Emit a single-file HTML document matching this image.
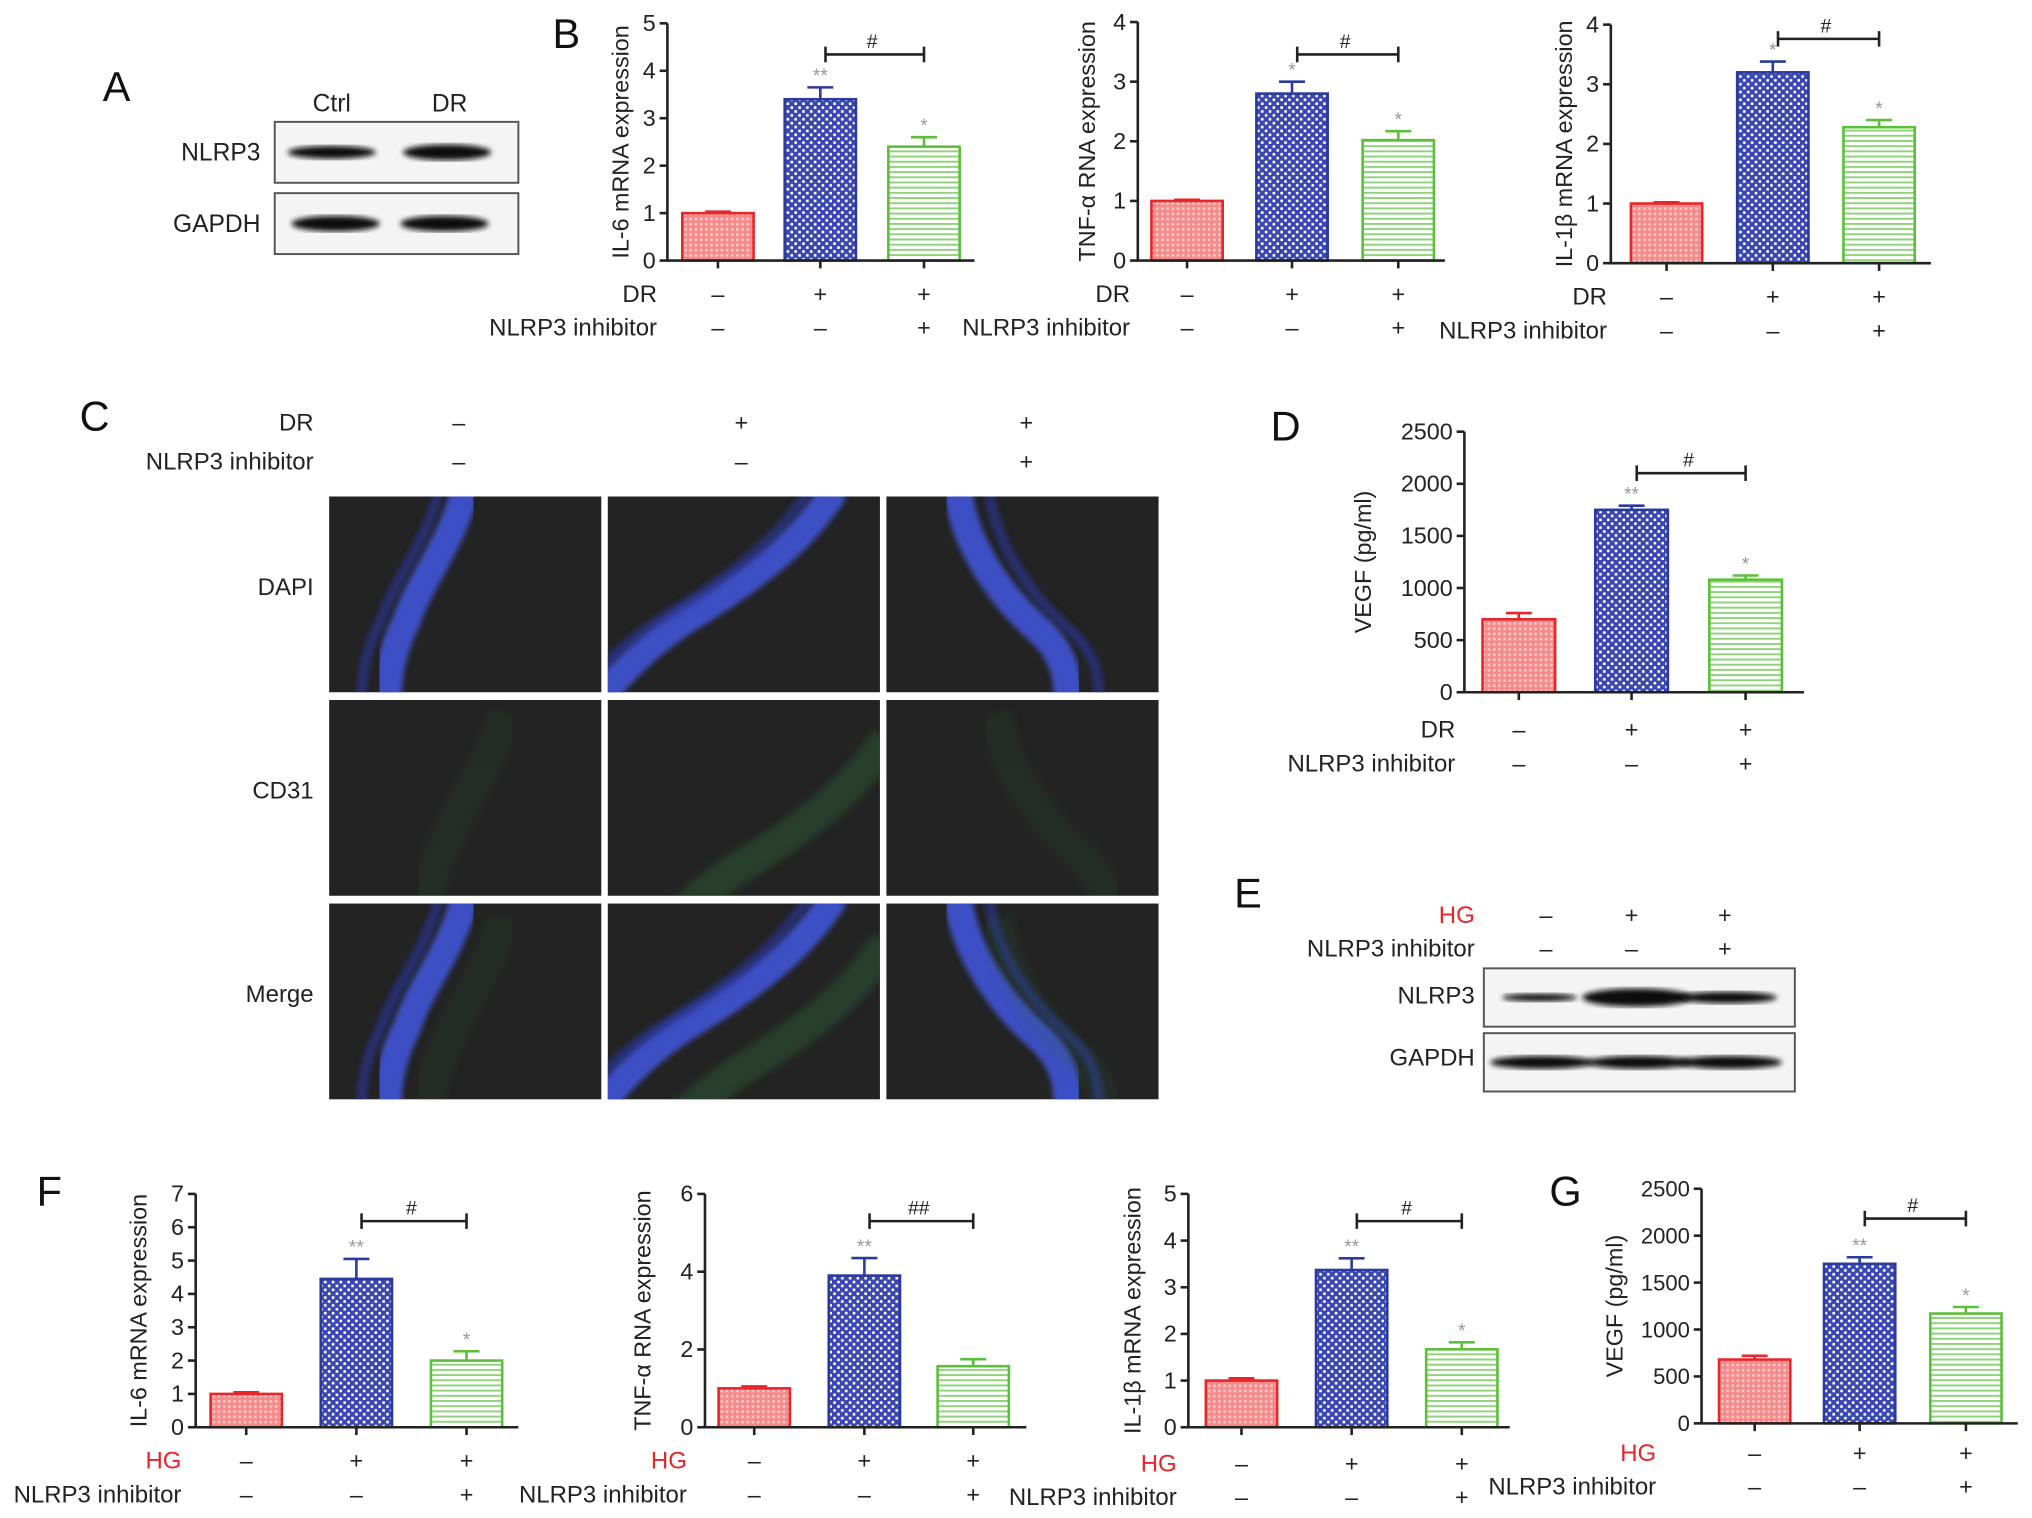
<!DOCTYPE html>
<html><head><meta charset="utf-8"><style>
html,body{margin:0;padding:0;background:#fff}
svg{display:block;font-family:"Liberation Sans",sans-serif}
</style></head><body>
<svg id="fig" width="2032" height="1518" viewBox="0 0 1568 1171" preserveAspectRatio="none" xmlns="http://www.w3.org/2000/svg">
<defs>
<pattern id="pRed" width="4" height="4" patternUnits="userSpaceOnUse"><rect width="4" height="4" fill="#f58a8a"/><rect width="2" height="2" fill="#fbcaca"/></pattern>
<pattern id="pBlue" width="6" height="6" patternUnits="userSpaceOnUse"><rect width="6" height="6" fill="#3a47b0"/><rect x="1" y="1" width="2" height="2" fill="#fff"/><rect x="4" y="4" width="2" height="2" fill="#fff"/></pattern>
<pattern id="pGreen" width="4" height="4" patternUnits="userSpaceOnUse"><rect width="4" height="4" fill="#fff"/><rect width="4" height="1.5" fill="#8fd27a"/></pattern>
<filter id="blur1"><feGaussianBlur stdDeviation="2"/></filter>
<filter id="blur3"><feGaussianBlur stdDeviation="3"/></filter>
</defs>
<g id="root"></g>
</svg>
<script>
const NS='http://www.w3.org/2000/svg';
const root=document.getElementById('root');
function mk(tag,attrs,parent,text){const e=document.createElementNS(NS,tag);for(const k in attrs)e.setAttribute(k,attrs[k]);if(text!==undefined)e.textContent=text;(parent||root).appendChild(e);return e;}
function txt(x,y,s,size,parent,anchor,fill,rot){const a={x:x,y:y,'font-size':size,'text-anchor':anchor||'middle',fill:fill||'#222'};if(rot)a.transform='rotate(-90 '+x+' '+y+')';return mk('text',a,parent,s);}

// ---- chart data ----
const conditions=['Control','Disease','Disease + NLRP3 inhibitor'];
const il6DR=[1.0,3.4,2.4], il6DRerr=[0.03,0.25,0.2];
const tnfDR=[1.0,2.8,2.02], tnfDRerr=[0.02,0.2,0.15];
const il1bDR=[1.0,3.2,2.28], il1bDRerr=[0.02,0.18,0.12];
const vegfDR=[700,1750,1080], vegfDRerr=[60,40,40];
const il6HG=[1.0,4.45,2.0], il6HGerr=[0.05,0.6,0.28];
const tnfHG=[1.0,3.9,1.57], tnfHGerr=[0.05,0.45,0.18];
const il1bHG=[1.0,3.37,1.67], il1bHGerr=[0.05,0.25,0.15];
const vegfHG=[680,1700,1170], vegfHGerr=[40,70,70];
const ticks5=[0,1,2,3,4,5], ticks4=[0,1,2,3,4], ticks7=[0,1,2,3,4,5,6,7], ticks6=[0,2,4,6], ticksV=[0,500,1000,1500,2000,2500];
const starsDR=['','**','*'], starsDR2=['','*','*'], starsHG2=['','**',''];
const rowA=['–','+','+'], rowB=['–','–','+'];

function chart(o){
  const g=mk('g',{});  
  const y=v=>o.y0-(v/o.max)*(o.y0-o.yTop);
  const fills=['url(#pRed)','url(#pBlue)','url(#pGreen)'], strokes=['#e8262a','#2b3a9e','#5cbf3a'];
  o.vals.forEach((v,i)=>{
    const cx=o.cx[i], w=o.bw, top=y(v), et=y(v+o.err[i]);
    const b=mk('rect',{x:cx-w/2,y:top,width:w,height:o.y0-top,fill:fills[i],stroke:strokes[i],'stroke-width':2},g);
     
    const e=mk('path',{d:`M${cx} ${top}V${et}M${cx-10} ${et}H${cx+10}`,stroke:strokes[i],'stroke-width':2,fill:'none'},g);
     
    if(o.stars[i]) txt(cx,et-4,o.stars[i],15,g,'middle','#999');
  });
  const ax=mk('path',{d:`M${o.x0} ${o.yTop}V${o.y0}H${o.xEnd}`,stroke:'#222','stroke-width':2,fill:'none'},g);
   
  o.ticks.forEach(t=>{const ty=y(t);mk('line',{x1:o.x0-6,y1:ty,x2:o.x0,y2:ty,stroke:'#222','stroke-width':2},g);
    const l=txt(o.x0-9,ty+6,String(t),o.tickSize||18,g,'end');  });
  o.cx.forEach(cx=>mk('line',{x1:cx,y1:o.y0,x2:cx,y2:o.y0+6,stroke:'#222','stroke-width':2},g));
  const yt=txt(o.titleX,(o.yTop+o.y0)/2,o.title,18,g,'middle','#222',true);  
  const by=o.bracketY;
  mk('path',{d:`M${o.cx[1]+4} ${by}H${o.cx[2]}M${o.cx[1]+4} ${by-6}V${by+6}M${o.cx[2]} ${by-6}V${by+6}`,stroke:'#222','stroke-width':2,fill:'none'},g);
  txt((o.cx[1]+o.cx[2])/2,by-5,o.hash,15,g,'middle','#222');
  const l1=txt(o.labX,o.r1,o.lab1,18.5,g,'end',o.lab1col||'#222');  
  txt(o.labX,o.r2,'NLRP3 inhibitor',18.5,g,'end');
  o.cx.forEach((cx,i)=>{txt(cx,o.r1,rowA[i],18,g);txt(cx,o.r2,rowB[i],18,g);});
}

chart({name:'chart-il6-dr',x0:515,xEnd:752,y0:201,yTop:18,max:5,ticks:ticks5,cx:[554,633,713],bw:55,vals:il6DR,err:il6DRerr,stars:starsDR,title:'IL-6 mRNA expression',titleX:485,bracketY:42,hash:'#',labX:507,r1:233,r2:259,lab1:'DR'});
chart({name:'chart-tnf-dr',x0:878,xEnd:1115,y0:201,yTop:17,max:4,ticks:ticks4,cx:[916,997,1079],bw:55,vals:tnfDR,err:tnfDRerr,stars:starsDR2,title:'TNF-α RNA expression',titleX:845,bracketY:42,hash:'#',labX:872,r1:233,r2:259,lab1:'DR'});
chart({name:'chart-il1b-dr',x0:1243,xEnd:1490,y0:203,yTop:19,max:4,ticks:ticks4,cx:[1286,1368,1450],bw:55,vals:il1bDR,err:il1bDRerr,stars:starsDR2,title:'IL-1β mRNA expression',titleX:1213,bracketY:30,hash:'#',labX:1240,r1:235,r2:261,lab1:'DR'});
chart({name:'chart-vegf-dr',x0:1130,xEnd:1392,y0:534,yTop:333,max:2500,ticks:ticksV,cx:[1172,1259,1347],bw:56,vals:vegfDR,err:vegfDRerr,stars:['','**','*'],title:'VEGF (pg/ml)',titleX:1058,bracketY:365,hash:'#',labX:1123,r1:569,r2:595,lab1:'DR'});
chart({name:'chart-il6-hg',x0:151,xEnd:400,y0:1101,yTop:921,max:7,ticks:ticks7,cx:[190,275,360],bw:55,vals:il6HG,err:il6HGerr,stars:['','**','*'],title:'IL-6 mRNA expression',titleX:113,bracketY:942,hash:'#',labX:140,r1:1133,r2:1159,lab1:'HG',lab1col:'#e8262a'});
chart({name:'chart-tnf-hg',x0:544,xEnd:792,y0:1101,yTop:921,max:6,ticks:ticks6,cx:[582,667,751],bw:55,vals:tnfHG,err:tnfHGerr,stars:starsHG2,title:'TNF-α RNA expression',titleX:502,bracketY:942,hash:'##',labX:530,r1:1133,r2:1159,lab1:'HG',lab1col:'#e8262a'});
chart({name:'chart-il1b-hg',x0:917,xEnd:1165,y0:1101,yTop:921,max:5,ticks:ticks5,cx:[958,1043,1128],bw:55,vals:il1bHG,err:il1bHGerr,stars:['','**','*'],title:'IL-1β mRNA expression',titleX:880,bracketY:942,hash:'#',labX:908,r1:1135,r2:1161,lab1:'HG',lab1col:'#e8262a'});
chart({name:'chart-vegf-hg',x0:1313,xEnd:1557,y0:1098,yTop:917,max:2500,ticks:ticksV,tickSize:17,cx:[1354,1435,1517],bw:55,vals:vegfHG,err:vegfHGerr,stars:['','**','*'],title:'VEGF (pg/ml)',titleX:1252,bracketY:940,hash:'#',labX:1278,r1:1127,r2:1153,lab1:'HG',lab1col:'#e8262a'});

[['A',90,78],['B',437,37],['C',73,332],['D',992,340],['E',963,700],['F',38,930],['G',1208,930]].forEach(p=>{
  const t=txt(p[1],p[2],p[0],32,root,'middle','#111');  });

function blot(x,y,w,h,bands,name){
  const g=mk('g',{});  
  mk('rect',{x:x,y:y,width:w,height:h,fill:'#f4f4f4',stroke:'#555','stroke-width':1.5},g);
  bands.forEach(b=>mk('ellipse',{cx:b[0],cy:y+h/2,rx:b[1],ry:b[2],fill:'#111',filter:'url(#blur1)'},g));
}
txt(256,86,'Ctrl',19); txt(347,86,'DR',19);
txt(201,124,'NLRP3',19,root,'end'); txt(201,179,'GAPDH',19,root,'end');
blot(212,94,188,47,[[256,34,5],[345,34,6]],'blot-nlrp3-a');
blot(212,149,188,47,[[259,34,6],[343,34,6]],'blot-gapdh-a');

txt(1138,712,'HG',18.5,root,'end','#e8262a'); txt(1138,738,'NLRP3 inhibitor',18.5,root,'end');
[['–','–'],['+','–'],['+','+']].forEach((r,i)=>{const cx=[1193,1259,1331][i];txt(cx,712,r[0],18);txt(cx,738,r[1],18);});
txt(1138,774,'NLRP3',18.5,root,'end'); txt(1138,822,'GAPDH',18.5,root,'end');
blot(1145,747,240,45,[[1188,29,3],[1263,42,7],[1333,38,4.5]],'blot-nlrp3-e');
blot(1145,797,240,45,[[1190,40,5],[1265,40,5],[1335,40,5]],'blot-gapdh-e');

txt(242,332,'DR',18.5,root,'end'); txt(242,362,'NLRP3 inhibitor',18.5,root,'end');
[354,572,792].forEach((cx,i)=>{txt(cx,332,rowA[i],18);txt(cx,362,rowB[i],18);});
const rowNames=['DAPI','CD31','Merge'], rowY=[383,540,697], colX=[254,469,684];
const paths=[
 'M105 0 C95 40 70 70 60 100 C50 120 45 140 45 160',
 'M175 0 C150 40 110 70 60 100 C30 120 10 140 -5 160',
 'M55 0 C60 40 85 80 120 110 C135 125 140 140 140 160'];
rowNames.forEach((n,r)=>{
  txt(242,rowY[r]+76,n,18.5,root,'end');
  colX.forEach((x,c)=>{
    const g=mk('g',{transform:`translate(${x} ${rowY[r]})`});  
    const cp=mk('clipPath',{id:'cl'+r+c},g); mk('rect',{width:210,height:151},cp);
    mk('rect',{width:210,height:151,fill:'#232323'},g);
    const inner=mk('g',{'clip-path':`url(#cl${r}${c})`},g);
    if(r!==1){
      mk('path',{d:paths[c],transform:'translate(0 -5)',stroke:'#3c50c4','stroke-width':22,fill:'none',filter:'url(#blur1)'},inner);
      mk('path',{d:paths[c],transform:c==2?'translate(24 -5)':'translate(-20 -5)',stroke:'#2a3590','stroke-width':8,fill:'none',opacity:0.7,filter:'url(#blur1)'},inner);
    }
    if(r!==0){
      mk('path',{d:paths[c],transform:c==1?'translate(40 30)':'translate(30 10)',stroke:'#2e6a3a','stroke-width':25,fill:'none',opacity:c==1?0.4:0.15,filter:'url(#blur3)'},inner);
    }
  });
});
</script>
</body></html>
